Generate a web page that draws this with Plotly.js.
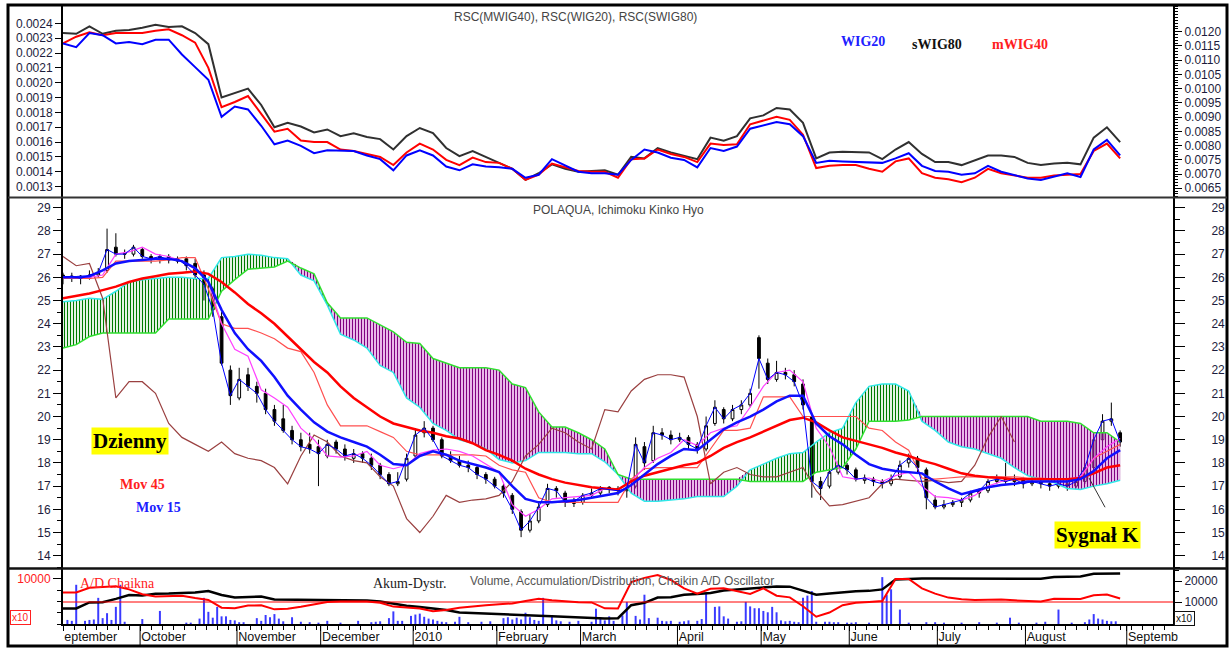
<!DOCTYPE html>
<html><head><meta charset="utf-8">
<script src="https://cdn.plot.ly/plotly-3.0.1.min.js"></script>
<style>html,body{margin:0;padding:0;background:#fff}#chart{width:1230px;height:648px}</style>
</head><body><div id="chart"></div>
<script>
// ---------- categories / ticks ----------
const monthTicks = [0, 17.5, 39.5, 58.5, 79.5, 98.5, 117.5, 139.5, 158.5, 178.5, 198.5, 218.5, 241.5];
const monthLabels = ['eptember','October','November','December','2010','February','March','April','May','June','July','August','Septemb'];
const rscLeftTicks = [0.0013,0.0014,0.0015,0.0016,0.0017,0.0018,0.0019,0.0020,0.0021,0.0022,0.0023,0.0024];
const rscRightTicks = [0.0065,0.0070,0.0075,0.0080,0.0085,0.0090,0.0095,0.0100,0.0105,0.0110,0.0115,0.0120];
const priceTicks = [14,15,16,17,18,19,20,21,22,23,24,25,26,27,28,29];
const volumeTicks = [10000];
const volumeTickLabels = ['10000'];
const adTicks = [10000, 20000];
const adTickLabels = ['10000', '20000'];

// trading-day positions (every 3rd session for indicator lines, every 2nd for candles)
const gridX3 = Array.from({length: 81}, (_, k) => 3 * k);
const candleX = Array.from({length: 121}, (_, k) => 2 * k);
const chikouX = gridX3.slice(0, 73);

// ---------- top panel: RSC ----------
const rscSWIG80 = [
 0.002335,0.00233,0.00238,0.00233,0.00235,0.002355,0.00237,0.00239,0.002375,0.00238,
 0.002335,0.00226,0.0019,0.00193,0.00196,0.00185,0.0017,0.00173,0.001705,0.001665,
 0.001685,0.00164,0.00166,0.001635,0.00162,0.00155,0.00164,0.001695,0.00166,0.00156,
 0.001505,0.00154,0.0015,0.00146,0.00142,0.001345,0.00139,0.00145,0.00142,0.0014,
 0.001405,0.00141,0.00138,0.0015,0.00149,0.00156,0.00153,0.001505,0.001485,0.00163,
 0.00161,0.00164,0.00176,0.00178,0.00183,0.00182,0.00173,0.00149,0.00153,0.001535,
 0.001535,0.00153,0.001485,0.00155,0.0016,0.00152,0.001465,0.001465,0.001445,0.00148,
 0.00151,0.00151,0.0015,0.00146,0.001445,0.001455,0.00146,0.00145,0.00163,0.0017,
 0.0016];
const rscMWIG40 = [
 0.002265,0.00231,0.00234,0.00232,0.002335,0.002335,0.002335,0.00235,0.00236,0.00232,
 0.00227,0.0021,0.001835,0.00187,0.00191,0.00179,0.00167,0.00169,0.00161,0.0016,
 0.0016,0.00155,0.00154,0.00152,0.0015,0.001445,0.00153,0.00159,0.00155,0.00148,
 0.001445,0.001495,0.001465,0.00146,0.00142,0.001345,0.00138,0.001455,0.00143,0.001405,
 0.0014,0.0014,0.00136,0.001485,0.00149,0.00155,0.00152,0.0015,0.001465,0.00159,
 0.00158,0.001585,0.00172,0.001745,0.00177,0.00175,0.00165,0.001425,0.00144,0.001445,
 0.001445,0.00142,0.0014,0.00147,0.00149,0.00139,0.00136,0.00135,0.00133,0.00136,
 0.00142,0.00139,0.001375,0.00136,0.00136,0.001375,0.00138,0.001385,0.00154,0.00159,
 0.00149];
const rscWIG20 = [
 0.002265,0.00224,0.002335,0.00232,0.002265,0.002275,0.00226,0.00229,0.00229,0.00219,
 0.002105,0.00202,0.00177,0.00184,0.00182,0.00171,0.001585,0.00161,0.001575,0.001525,
 0.001545,0.00154,0.00154,0.00151,0.001485,0.00141,0.00151,0.001545,0.00151,0.001435,
 0.00141,0.00145,0.001435,0.00143,0.00142,0.00136,0.00138,0.001485,0.001445,0.0014,
 0.00139,0.00139,0.00138,0.00148,0.00155,0.00153,0.001495,0.00148,0.00143,0.00156,
 0.00154,0.00157,0.00169,0.00171,0.001735,0.00172,0.00164,0.00146,0.001475,0.00147,
 0.001465,0.001465,0.00146,0.00149,0.001525,0.00144,0.001405,0.0014,0.00138,0.00139,
 0.00144,0.0014,0.00138,0.001355,0.001345,0.00137,0.00139,0.001365,0.00155,0.001615,
 0.00151];

// ---------- middle panel: POLAQUA candles ----------
const candleOpen = [
 26.1,26.0,26.05,25.95,26.1,26.3,27.3,27.05,27.0,27.2,
 26.9,26.8,26.9,26.7,26.8,26.6,26.1,25.5,24.3,22.0,
 20.8,21.8,21.3,21.0,20.3,19.9,19.4,19.0,18.8,18.7,
 18.3,18.9,18.6,18.2,18.4,18.2,17.9,17.5,17.1,17.3,
 18.3,19.3,19.5,19.0,18.3,18.1,17.9,17.8,17.5,17.3,
 17.0,16.6,15.9,15.1,15.5,16.2,16.9,16.7,16.25,16.3,
 16.6,16.7,16.95,16.9,16.8,17.0,18.7,18.1,19.3,19.2,
 19.0,19.1,18.8,18.6,19.7,20.3,19.9,20.3,20.5,23.4,
 22.3,21.6,21.9,21.8,21.4,20.0,17.2,17.0,17.6,17.9,
 17.7,17.25,17.3,17.2,17.1,17.4,18.0,18.2,17.7,16.4,
 16.1,16.2,16.3,16.4,16.7,16.8,17.2,17.3,17.2,17.3,
 17.1,17.2,17.1,17.0,17.1,17.0,17.2,17.8,19.0,19.8,
 19.3];
const candleHigh = [
 26.2,26.2,26.1,26.3,26.4,28.1,27.9,27.2,27.4,27.3,
 27.0,27.0,27.0,26.9,26.9,26.8,26.3,25.6,24.5,22.2,
 22.1,22.1,21.5,21.2,20.5,20.5,19.6,19.3,19.3,19.0,
 19.0,19.0,18.8,18.6,18.5,18.4,18.0,17.6,17.6,18.4,
 19.5,19.8,19.6,19.1,18.5,18.3,18.1,17.9,17.6,17.4,
 17.1,16.7,16.0,15.8,16.3,17.1,17.0,16.8,16.5,16.7,
 16.9,17.0,17.0,17.0,17.1,19.1,18.9,19.6,19.5,19.4,
 19.3,19.2,18.9,20.0,20.7,20.4,20.5,20.7,21.2,23.5,
 22.5,22.4,22.1,22.0,21.6,20.1,17.4,17.8,18.1,18.0,
 17.8,17.5,17.4,17.3,17.5,18.1,18.4,18.3,17.8,16.6,
 16.4,16.4,16.5,16.8,16.9,17.3,17.5,18.0,17.5,17.4,
 17.4,17.3,17.2,17.2,17.2,17.4,18.0,19.3,20.1,20.6,
 19.4];
const candleLow = [
 25.7,25.8,25.7,25.9,26.0,26.2,26.9,26.8,26.9,26.8,
 26.6,26.6,26.6,26.6,26.3,25.9,25.0,24.3,22.2,20.5,
 20.7,21.1,20.6,20.1,19.6,19.3,18.8,18.5,18.4,17.0,
 18.2,18.4,18.1,18.0,18.0,17.7,17.3,17.0,17.0,17.2,
 18.2,19.1,18.9,18.2,18.0,17.8,17.6,17.3,17.1,16.9,
 16.5,15.8,14.8,15.0,15.4,16.1,16.5,16.1,16.1,16.2,
 16.5,16.6,16.7,16.6,16.5,16.9,17.7,18.0,19.0,18.8,
 18.9,18.6,18.4,18.5,19.6,19.7,19.8,20.1,20.4,21.2,
 21.4,21.5,21.6,21.3,20.3,16.5,16.4,16.9,17.5,17.5,
 17.2,17.1,17.0,16.9,17.0,17.3,17.8,17.6,16.0,16.0,
 16.0,16.1,16.1,16.3,16.5,16.7,17.1,17.1,17.0,16.9,
 17.0,16.9,16.8,16.9,16.8,16.9,17.1,17.7,18.9,19.6,
 18.7];
const candleClose = [
 26.0,26.05,25.95,26.1,26.2,27.2,27.0,27.0,27.3,26.9,
 26.8,26.9,26.75,26.8,26.5,26.1,25.7,24.6,22.3,20.9,
 21.6,21.3,21.0,20.3,19.8,19.4,19.0,18.7,18.6,18.4,
 18.8,18.6,18.3,18.4,18.2,17.9,17.5,17.1,17.2,18.2,
 19.2,19.5,19.0,18.3,18.1,17.9,17.8,17.5,17.3,17.0,
 16.7,16.0,15.1,15.5,16.1,16.9,16.8,16.3,16.35,16.6,
 16.7,16.9,16.85,16.8,16.9,18.8,18.0,19.3,19.2,19.0,
 19.1,18.8,18.6,19.6,20.4,19.9,20.3,20.5,21.0,22.5,
 21.6,21.9,21.8,21.5,20.5,17.2,16.9,17.6,17.9,17.7,
 17.3,17.35,17.2,17.1,17.3,17.9,18.2,17.8,16.5,16.1,
 16.2,16.3,16.4,16.7,16.8,17.2,17.3,17.2,17.3,17.1,
 17.2,17.1,17.0,17.1,17.0,17.2,17.8,19.0,19.8,19.9,
 18.9];

// ---------- middle panel: Ichimoku & moving averages ----------
const senkouA = [
 24.95,25.0,25.1,25.05,25.4,25.8,25.9,25.95,26.0,26.0,
 25.95,25.95,26.85,26.9,27.0,26.95,26.85,26.8,26.1,25.85,
 24.8,23.55,23.3,22.95,22.2,21.9,20.8,20.4,19.7,19.4,
 19.0,18.85,18.6,18.15,18.0,18.1,18.45,18.45,18.45,18.4,
 18.4,18.05,17.5,16.7,16.35,16.35,16.4,16.45,16.55,16.55,
 16.55,17.0,17.7,17.95,18.2,18.4,18.45,18.9,19.3,19.5,
 20.6,21.3,21.4,21.4,21.1,19.8,19.4,18.9,18.7,18.6,
 18.4,18.2,17.8,17.45,17.3,17.15,16.9,16.85,17.0,17.1,
 17.25];
const senkouB = [
 22.95,23.1,23.45,23.6,23.6,23.6,23.6,23.6,24.2,24.2,
 24.2,24.2,25.4,25.9,26.35,26.4,26.45,26.7,26.4,26.15,
 24.9,24.25,24.25,24.25,23.95,23.65,23.2,23.15,22.5,22.3,
 22.1,22.1,22.1,22.0,21.4,21.25,20.2,19.55,19.55,19.3,
 19.0,18.6,17.5,17.3,17.3,17.3,17.3,17.3,17.3,17.3,
 17.3,17.3,17.2,17.2,17.2,17.2,17.2,17.6,17.7,17.8,
 18.6,19.8,19.8,19.8,19.85,20.0,20.0,20.0,20.0,20.0,
 20.0,20.0,20.0,20.0,19.8,19.8,19.8,19.7,19.3,19.3,
 18.9];
const mov45 = [
 25.1,25.2,25.3,25.45,25.6,25.8,25.95,26.05,26.15,26.2,
 26.25,26.15,25.8,25.35,24.85,24.45,24.0,23.45,22.9,22.35,
 21.9,21.3,20.8,20.4,20.0,19.7,19.55,19.4,19.3,19.15,
 19.05,18.85,18.55,18.35,18.1,17.75,17.5,17.3,17.15,17.05,
 16.95,16.9,16.85,17.2,17.45,17.6,17.75,17.9,18.0,18.3,
 18.65,18.9,19.1,19.35,19.6,19.85,19.95,19.75,19.4,19.1,
 18.95,18.8,18.65,18.45,18.3,18.1,17.95,17.75,17.55,17.45,
 17.38,17.35,17.3,17.3,17.3,17.3,17.3,17.35,17.55,17.8,
 17.9];
const mov15 = [
 26.0,26.0,26.05,26.3,26.6,26.7,26.75,26.8,26.8,26.7,
 26.4,25.8,24.6,23.6,22.9,22.4,21.7,20.9,20.3,19.75,
 19.35,19.1,18.9,18.7,18.35,17.95,17.9,18.3,18.5,18.35,
 18.1,17.95,17.8,17.6,17.0,16.45,16.3,16.3,16.35,16.4,
 16.5,16.6,16.7,17.05,17.5,17.95,18.3,18.6,18.55,19.0,
 19.45,19.75,20.0,20.3,20.65,20.9,20.9,19.7,19.15,18.8,
 18.35,17.95,17.75,17.65,17.6,17.55,17.2,16.9,16.65,16.8,
 16.95,17.05,17.1,17.2,17.2,17.2,17.2,17.3,17.65,18.2,
 18.55];
const kijun = [
 25.95,25.95,25.95,26.0,26.7,26.7,26.7,26.7,26.75,26.85,
 26.85,25.5,24.0,23.8,23.8,23.6,23.35,22.95,22.8,21.9,
 20.5,19.6,19.6,19.6,19.35,19.1,18.5,18.35,18.35,18.35,
 18.35,18.35,18.3,17.9,17.7,17.6,16.5,16.3,16.3,16.3,
 16.3,16.3,16.3,17.3,17.75,17.8,17.8,17.8,17.8,18.6,
 19.4,19.4,19.5,20.85,20.85,20.85,20.0,20.0,20.0,20.0,
 20.0,19.5,19.4,18.9,18.55,17.35,17.3,17.35,17.4,17.4,
 17.4,17.4,17.4,17.35,17.35,17.3,17.3,17.35,18.2,18.5,
 18.8];
const tenkan = [
 26.0,26.0,26.0,26.1,27.0,27.1,27.3,27.0,26.9,26.7,
 26.35,25.8,24.0,22.9,22.6,21.15,20.8,20.4,19.5,19.0,
 18.3,18.25,18.3,18.5,17.9,17.75,17.9,18.4,18.55,18.6,
 18.5,18.3,17.95,17.6,16.2,15.7,16.0,16.45,16.5,16.55,
 16.6,16.9,16.85,17.2,17.8,18.2,18.45,19.0,18.75,19.3,
 19.5,19.6,20.4,21.3,21.9,22.0,21.5,19.5,18.7,17.4,
 17.3,17.35,17.2,17.45,17.6,17.0,16.55,16.5,16.4,16.6,
 17.0,17.2,17.3,17.3,17.3,17.3,17.3,17.4,18.2,18.7,
 19.05];
const chikou = [
 26.9,26.5,26.6,25.1,20.8,21.5,21.5,21.0,19.7,19.1,
 18.8,18.5,18.9,18.4,18.2,18.1,17.8,17.1,18.3,19.2,
 18.9,18.3,18.1,18.0,17.4,17.0,15.6,15.0,15.7,16.6,
 16.3,16.4,16.45,16.6,17.2,18.3,18.8,19.5,19.3,18.9,
 18.6,20.3,20.2,21.1,21.6,21.8,21.8,21.7,20.0,17.1,
 17.6,17.8,17.5,17.4,17.4,17.6,17.8,16.8,16.15,16.2,
 16.35,16.5,17.1,17.3,17.25,17.2,17.25,17.15,17.2,17.9,
 19.1,20.0,18.9];

// ---------- bottom panel: volume, A/D, Chaikin ----------
const volDay = [
 1,2,3,5,6,7,8,9,10,11,
 12,13,14,18,22,28,29,31,32,33,
 34,35,36,37,38,39,40,41,44,45,
 46,47,48,49,50,52,54,56,58,60,
 63,67,70,71,72,74,75,76,77,79,
 80,81,82,83,84,85,86,87,89,90,
 92,95,97,100,101,102,103,104,105,106,
 107,108,109,111,112,113,115,117,120,121,
 122,123,124,125,127,128,130,131,132,133,
 135,136,137,138,140,141,142,144,145,146,
 148,149,150,151,153,154,155,156,157,158,
 159,160,161,162,163,164,165,166,167,168,
 169,170,171,173,174,175,176,178,179,180,
 183,186,187,188,190,192,196,198,200,204,
 208,212,215,217,221,223,226,229,232,233,
 234,235,236,237,238,239];
const volValue = [
 900,700,8700,700,900,1000,5800,1300,2400,900,
 3800,8700,500,1100,2900,300,300,1200,5800,2700,
 1400,3800,1700,1700,900,800,400,400,1300,700,
 2000,1500,2200,1200,600,1500,500,400,300,700,
 300,700,400,500,600,1300,2800,700,700,1800,
 2100,2300,1600,1200,1000,700,500,400,500,1600,
 400,500,600,1300,1500,1000,1400,1000,2500,1500,
 900,700,5800,1700,800,600,500,700,500,3400,
 1500,800,1700,700,1900,4900,1800,1000,6500,1300,
 1400,700,600,700,500,600,800,700,1100,6900,
 3800,3900,1700,1200,500,600,4900,3900,3500,3500,
 2900,2600,3800,2600,800,600,700,500,400,5800,
 6300,7300,500,500,500,400,400,300,300,400,
 300,10400,6500,7700,3200,300,400,400,300,300,
 400,300,1400,300,300,500,3200,300,400,1000,
 2200,1200,1000,700,600,600];
const accDist = [
 6900,6900,9800,9900,11500,13300,13100,13900,14000,14200,
 14500,15200,13300,12100,12300,12600,11200,11100,11100,11000,
 11000,11000,10900,10700,10200,9200,8200,7600,7000,6200,
 5000,4800,4600,4400,4200,3800,3500,3200,2900,2600,
 2400,2200,2300,8500,9600,12100,12300,13400,13800,14300,
 15500,16000,16400,17100,17400,17300,15500,13500,14000,14700,
 15100,15300,16000,20700,21000,21200,21200,21200,21200,21200,
 21200,21300,21000,21000,21100,21900,22100,22200,23400,23600,
 23600];
const chaikinOsc = [
 14500,14500,16800,17200,17500,16000,13700,12600,12900,13000,
 11900,11000,7300,7000,8300,8400,6500,6800,7700,9000,
 10000,10200,10200,10200,9600,7800,7400,6900,5600,6200,
 7300,8000,8400,8900,9300,10500,11500,10800,10200,9900,
 9800,7000,6900,19500,21500,22800,20500,16500,14000,16300,
 16500,15000,13800,16500,13000,12200,8000,3000,5000,8500,
 9600,10000,10500,21000,21000,16500,14000,12100,11300,11000,
 11000,11200,10800,10500,10200,11500,11600,11400,13200,13600,
 11700];
const oscillatorLevel = 10000;

// ---------- derived cloud bounds ----------
const cloudTop = senkouA.map((a, i) => Math.max(a, senkouB[i]));

// ---------- helpers for pixel placement of texts ----------
const PL = 63, PW = 1110, PB = 624, PH = 618;
const px = x => (x - PL) / PW;
const py = y => (PB - y) / PH;

const sans = 'Liberation Sans, Arial, sans-serif';
const serif = 'Liberation Serif, Times New Roman, serif';

const data = [
  // top panel
  {type:'scatter', mode:'lines', x:gridX3, y:rscSWIG80, xaxis:'x', yaxis:'y', line:{color:'#303030', width:2}, hoverinfo:'skip'},
  {type:'scatter', mode:'lines', x:gridX3, y:rscMWIG40, xaxis:'x', yaxis:'y', line:{color:'#ff0000', width:2}, hoverinfo:'skip'},
  {type:'scatter', mode:'lines', x:gridX3, y:rscWIG20, xaxis:'x', yaxis:'y', line:{color:'#0000ff', width:2}, hoverinfo:'skip'},
  {type:'scatter', mode:'lines', x:[], y:[], xaxis:'x', yaxis:'y2', hoverinfo:'skip'},
  // cloud hatching (green where A above B, purple where B above A)
  {type:'scatter', mode:'lines', x:gridX3, y:senkouB, xaxis:'x', yaxis:'y3', line:{width:0, color:'rgba(0,0,0,0)'}, hoverinfo:'skip'},
  {type:'scatter', mode:'lines', x:gridX3, y:cloudTop, xaxis:'x', yaxis:'y3', line:{width:0, color:'rgba(0,0,0,0)'}, fill:'tonexty', fillcolor:'rgba(0,0,0,0)',
   fillpattern:{shape:'|', fgcolor:'#007a00', bgcolor:'rgba(255,255,255,0)', size:3, solidity:0.4}, hoverinfo:'skip'},
  {type:'scatter', mode:'lines', x:gridX3, y:senkouA, xaxis:'x', yaxis:'y3', line:{width:0, color:'rgba(0,0,0,0)'}, hoverinfo:'skip'},
  {type:'scatter', mode:'lines', x:gridX3, y:cloudTop, xaxis:'x', yaxis:'y3', line:{width:0, color:'rgba(0,0,0,0)'}, fill:'tonexty', fillcolor:'rgba(0,0,0,0)',
   fillpattern:{shape:'|', fgcolor:'#800080', bgcolor:'rgba(255,160,255,0.35)', size:3, solidity:0.45}, hoverinfo:'skip'},
  {type:'scatter', mode:'lines', x:gridX3, y:senkouA, xaxis:'x', yaxis:'y3', line:{color:'#30e8e8', width:1.5}, hoverinfo:'skip'},
  {type:'scatter', mode:'lines', x:gridX3, y:senkouB, xaxis:'x', yaxis:'y3', line:{color:'#30e030', width:1.5}, hoverinfo:'skip'},
  {type:'scatter', mode:'lines', x:chikouX, y:chikou, xaxis:'x', yaxis:'y3', line:{color:'#9a4040', width:1.2}, hoverinfo:'skip'},
  {type:'scatter', mode:'lines', x:gridX3, y:kijun, xaxis:'x', yaxis:'y3', line:{color:'#ff5050', width:1.2}, hoverinfo:'skip'},
  {type:'scatter', mode:'lines', x:gridX3, y:tenkan, xaxis:'x', yaxis:'y3', line:{color:'#ff40ff', width:1.2}, hoverinfo:'skip'},
  {type:'scatter', mode:'lines', x:gridX3, y:mov45, xaxis:'x', yaxis:'y3', line:{color:'#ff0000', width:2.5}, hoverinfo:'skip'},
  {type:'scatter', mode:'lines', x:gridX3, y:mov15, xaxis:'x', yaxis:'y3', line:{color:'#1010ff', width:2.5}, hoverinfo:'skip'},
  {type:'candlestick', x:candleX, open:candleOpen, high:candleHigh, low:candleLow, close:candleClose, xaxis:'x', yaxis:'y3',
   increasing:{line:{color:'#000000', width:1}, fillcolor:'#ffffff'},
   decreasing:{line:{color:'#000000', width:1}, fillcolor:'#000000'},
   whiskerwidth:0, hoverinfo:'skip'},
  {type:'scatter', mode:'lines', x:candleX, y:candleClose, xaxis:'x', yaxis:'y3', line:{color:'#0000ff', width:1}, hoverinfo:'skip'},
  {type:'scatter', mode:'lines', x:[], y:[], xaxis:'x', yaxis:'y4', hoverinfo:'skip'},
  // bottom panel
  {type:'bar', x:volDay, y:volValue, xaxis:'x', yaxis:'y5', width:0.45, marker:{color:'#3a3aff', line:{width:0}}, hoverinfo:'skip'},
  {type:'scatter', mode:'lines', x:gridX3, y:accDist, xaxis:'x', yaxis:'y6', line:{color:'#000000', width:2.5}, hoverinfo:'skip'},
  {type:'scatter', mode:'lines', x:gridX3, y:chaikinOsc, xaxis:'x', yaxis:'y6', line:{color:'#ff0000', width:2}, hoverinfo:'skip'}
];

const tickFont = {family:sans, size:12, color:'#1c1c3c'};

const shapes = [
  {type:'rect', xref:'paper', yref:'paper', x0:px(8), x1:px(1227), y0:py(646), y1:py(5), line:{color:'#000', width:3}},
  {type:'line', xref:'paper', yref:'paper', x0:px(8), x1:px(1227), y0:py(197.5), y1:py(197.5), line:{color:'#333', width:2}},
  {type:'line', xref:'paper', yref:'paper', x0:px(8), x1:px(1227), y0:py(568.5), y1:py(568.5), line:{color:'#111', width:2.5}},
  {type:'line', xref:'paper', yref:'y6', x0:0, x1:1, y0:oscillatorLevel, y1:oscillatorLevel, line:{color:'#ff0000', width:1}}
];
monthTicks.slice(1).forEach(v => shapes.push({type:'line', xref:'x', yref:'paper', x0:v, x1:v, y0:py(646), y1:0, line:{color:'#000', width:1}}));

const ann = (text, x, y, font, extra) => Object.assign({text, xref:'paper', yref:'paper', x:px(x), y:py(y), xanchor:'center', yanchor:'middle', showarrow:false, font}, extra || {});

const annotations = [
  ann('RSC(MWIG40), RSC(WIG20), RSC(SWIG80)', 575, 17, {family:sans, size:12, color:'#444'}),
  ann('<b>WIG20</b>', 863, 41, {family:serif, size:14, color:'#2020ff'}),
  ann('<b>sWIG80</b>', 937, 44, {family:serif, size:14, color:'#111'}),
  ann('<b>mWIG40</b>', 1020, 45, {family:serif, size:14, color:'#ff2020'}),
  ann('POLAQUA, Ichimoku Kinko Hyo', 618, 210, {family:sans, size:12, color:'#444'}),
  ann('<b>Dzienny</b>', 130, 441, {family:serif, size:21, color:'#000'}, {bgcolor:'#ffff00', borderpad:1}),
  ann('<b>Mov 45</b>', 142, 485, {family:serif, size:14, color:'#ff2020'}),
  ann('<b>Mov 15</b>', 158, 507, {family:serif, size:14, color:'#2020ff'}),
  ann('<b>Sygnał K</b>', 1097, 535, {family:serif, size:21, color:'#000'}, {bgcolor:'#ffff00', borderpad:1}),
  {text:'', xref:'x', yref:'y3', x:232.9, y:17.36, showarrow:true, ax:17, ay:31, arrowhead:0, arrowwidth:1, arrowcolor:'#333', standoff:0},
  ann('A/D Chaikna', 117, 583, {family:serif, size:14, color:'#ff2020'}),
  ann('Volume, Accumulation/Distribution, Chaikin A/D Oscillator', 622, 581, {family:sans, size:12, color:'#555'}),
  ann('Akum-Dystr.', 410, 583, {family:serif, size:14, color:'#222'}),
  ann('x10', 20, 617, {family:sans, size:10, color:'#ff2020'}, {bordercolor:'#ff2020', borderwidth:1, borderpad:1}),
  ann('x10', 1185, 618, {family:sans, size:10, color:'#111'}, {bordercolor:'#111', borderwidth:1, borderpad:1, bgcolor:'#fff'})
];

const yBase = {showgrid:false, zeroline:false, showline:true, linecolor:'#000', linewidth:2, ticks:'outside', tickcolor:'#000', tickfont:tickFont, fixedrange:true};

const layout = {
  width:1230, height:648,
  margin:{l:PL, r:1230 - PL - PW, t:6, b:648 - PB},
  paper_bgcolor:'#ffffff', plot_bgcolor:'#ffffff',
  showlegend:false, hovermode:false, boxgap:0.55, barmode:'overlay',
  xaxis:{domain:[0,1], anchor:'y5', type:'linear', range:[0, 252], rangeslider:{visible:false},
    showgrid:false, zeroline:false, showline:true, linecolor:'#000', linewidth:1.5,
    tickmode:'array', tickvals:monthTicks, ticktext:monthLabels, ticks:'outside', ticklen:5, tickcolor:'#000',
    ticklabelposition:'outside right', tickfont:{family:sans, size:12.5, color:'#111'},
    minor:{dtick:2.5, tick0:0, ticks:'outside', ticklen:4, tickcolor:'#000'}},
  yaxis:Object.assign({}, yBase, {domain:[py(197), 1], anchor:'x', range:[0.00123, 0.002517],
    tickmode:'array', tickvals:rscLeftTicks, tickformat:'.4f', ticklen:6}),
  yaxis2:Object.assign({}, yBase, {overlaying:'y', side:'right', anchor:'x', range:[0.006194, 0.012903],
    tickmode:'array', tickvals:rscRightTicks, tickformat:'.4f', ticklen:7,
    minor:{dtick:0.0001, tick0:0.0065, ticks:'outside', ticklen:3, tickcolor:'#000'}}),
  yaxis3:Object.assign({}, yBase, {domain:[py(568), py(198)], anchor:'x', range:[13.47, 29.42],
    tickmode:'array', tickvals:priceTicks, ticklen:8,
    minor:{dtick:0.5, tick0:0, ticks:'outside', ticklen:4, tickcolor:'#000'}}),
  yaxis4:Object.assign({}, yBase, {overlaying:'y3', side:'right', anchor:'x', range:[13.47, 29.42],
    tickmode:'array', tickvals:priceTicks, ticklen:10, ticklabelstandoff:24,
    minor:{dtick:0.5, tick0:0, ticks:'outside', ticklen:5, tickcolor:'#000'}}),
  yaxis5:Object.assign({}, yBase, {domain:[0, py(569)], anchor:'x', range:[0, 12200],
    tickmode:'array', tickvals:volumeTicks, ticktext:volumeTickLabels, ticklen:8, tickfont:{family:sans, size:12, color:'#ff2020'},
    minor:{dtick:2500, tick0:0, ticks:'outside', ticklen:4, tickcolor:'#000'}}),
  yaxis6:Object.assign({}, yBase, {overlaying:'y5', side:'right', anchor:'x', range:[-476, 25714],
    tickmode:'array', tickvals:adTicks, ticktext:adTickLabels, ticklen:7,
    minor:{dtick:5000, tick0:0, ticks:'outside', ticklen:4, tickcolor:'#000'}}),
  shapes, annotations
};

Plotly.newPlot('chart', data, layout, {staticPlot:true, displayModeBar:false});
</script></body></html>
